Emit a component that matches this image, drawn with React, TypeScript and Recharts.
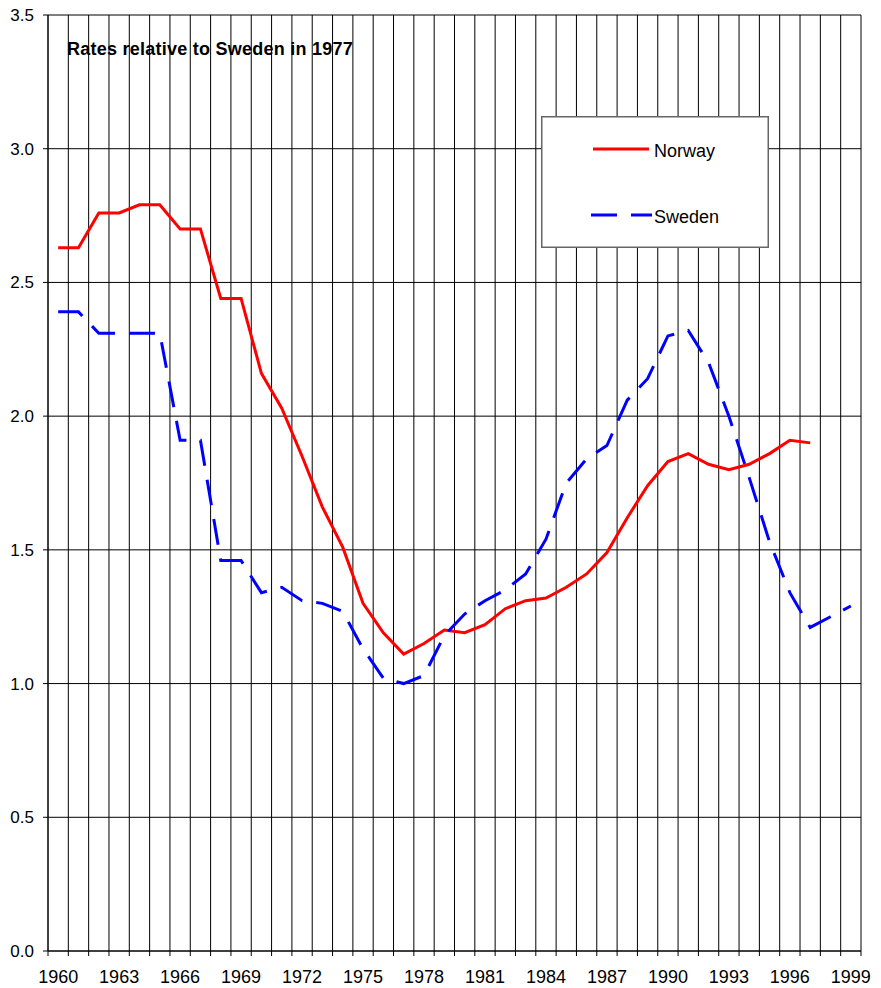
import { LineChart, Line, XAxis, YAxis, CartesianGrid, Legend } from 'recharts';

const years = [
  1960, 1961, 1962, 1963, 1964, 1965, 1966, 1967, 1968, 1969,
  1970, 1971, 1972, 1973, 1974, 1975, 1976, 1977, 1978, 1979,
  1980, 1981, 1982, 1983, 1984, 1985, 1986, 1987, 1988, 1989,
  1990, 1991, 1992, 1993, 1994, 1995, 1996, 1997, 1998, 1999,
];

const norway = [
  2.63, 2.63, 2.76, 2.76, 2.79, 2.79, 2.70, 2.70, 2.44, 2.44,
  2.16, 2.03, 1.85, 1.66, 1.51, 1.30, 1.19, 1.11, 1.15, 1.20,
  1.19, 1.22, 1.28, 1.31, 1.32, 1.36, 1.41, 1.49, 1.62, 1.74,
  1.83, 1.86, 1.82, 1.80, 1.82, 1.86, 1.91, 1.90, null, null,
];

const sweden = [
  2.39, 2.39, 2.31, 2.31, 2.31, 2.31, 1.91, 1.91, 1.46, 1.46,
  1.34, 1.36, 1.31, 1.30, 1.27, 1.13, 1.02, 1.00, 1.03, 1.18,
  1.26, 1.31, 1.35, 1.41, 1.54, 1.75, 1.84, 1.89, 2.06, 2.14,
  2.30, 2.32, 2.20, 2.00, 1.77, 1.53, 1.34, 1.21, 1.25, 1.29,
];

const yTicks = [0, 0.5, 1, 1.5, 2, 2.5, 3, 3.5];
const labelStep = 3;

const data = years.map((year, i) => ({ year, norway: norway[i], sweden: sweden[i] }));
// category boundaries (grid lines sit between the years)
const boundaries = [...years.map((y) => y - 0.5), years[years.length - 1] + 0.5];

const W = 881;
const H = 988;
const PLOT_LEFT = 48;
const PLOT_RIGHT = 861;
const band = (PLOT_RIGHT - PLOT_LEFT) / years.length;
const FONT = '"Liberation Sans", Arial, sans-serif';

function YearTick(props: any) {
  const { x, y, payload } = props;
  const yr = payload.value + 0.5;
  if (!years.includes(yr) || (yr - years[0]) % labelStep !== 0) return null;
  return (
    <text x={x + band / 2} y={y + 25} textAnchor="middle" fontSize={18} fill="#000" fontFamily={FONT}>
      {yr}
    </text>
  );
}

function LegendBox() {
  return (
    <svg width={228} height={132} style={{ display: 'block' }}>
      <rect x={0.75} y={0.75} width={226.5} height={130.5} fill="#fff" stroke="#666" strokeWidth={1.5} />
      <line x1={52} y1={33} x2={108} y2={33} stroke="#ff0000" strokeWidth={3} />
      <text x={113} y={41} fontSize={18} fontFamily={FONT} fill="#000">Norway</text>
      <line x1={50} y1={99} x2={111} y2={99} stroke="#0000ff" strokeWidth={3} strokeDasharray="26 14" />
      <text x={113} y={107} fontSize={18} fontFamily={FONT} fill="#000">Sweden</text>
    </svg>
  );
}

export default function App() {
  return (
    <div style={{ position: 'relative', width: W, height: H, margin: '-8px 0 0 -8px', background: '#fff' }}>
      <LineChart
        width={W}
        height={H}
        data={data}
        margin={{ top: 15, right: W - PLOT_RIGHT, bottom: 7, left: 0 }}
      >
        <CartesianGrid stroke="#000" strokeWidth={1} />
        <XAxis
          dataKey="year"
          type="number"
          domain={[boundaries[0], boundaries[boundaries.length - 1]]}
          ticks={boundaries}
          interval={0}
          height={30}
          tickSize={5}
          tickLine={{ stroke: '#000' }}
          axisLine={{ stroke: '#000' }}
          tick={<YearTick />}
        />
        <YAxis
          domain={[0, 3.5]}
          ticks={yTicks}
          interval={0}
          width={PLOT_LEFT}
          tickSize={5}
          tickMargin={9}
          tickFormatter={(v: number) => v.toFixed(1)}
          tick={{ fontSize: 17, fill: '#000', fontFamily: FONT }}
          tickLine={{ stroke: '#000' }}
          axisLine={{ stroke: '#000' }}
        />
        <Legend
          layout="horizontal"
          verticalAlign="middle"
          align="center"
          wrapperStyle={{ position: 'absolute', left: 541, top: 116, width: 228, height: 132 }}
          content={() => <LegendBox />}
        />
        <Line
          type="linear"
          dataKey="norway"
          name="Norway"
          stroke="#ff0000"
          strokeWidth={3}
          dot={false}
          activeDot={false}
          isAnimationActive={false}
        />
        <Line
          type="linear"
          dataKey="sweden"
          name="Sweden"
          stroke="#0000ff"
          strokeWidth={3}
          strokeDasharray="26 14"
          dot={false}
          activeDot={false}
          isAnimationActive={false}
        />
      </LineChart>
      <div
        style={{
          position: 'absolute',
          left: 67,
          top: 40,
          fontFamily: FONT,
          fontSize: 18,
          lineHeight: '18px',
          fontWeight: 'bold',
          letterSpacing: '0.25px',
          color: '#000',
          whiteSpace: 'nowrap',
        }}
      >
        Rates relative to Sweden in 1977
      </div>
    </div>
  );
}
